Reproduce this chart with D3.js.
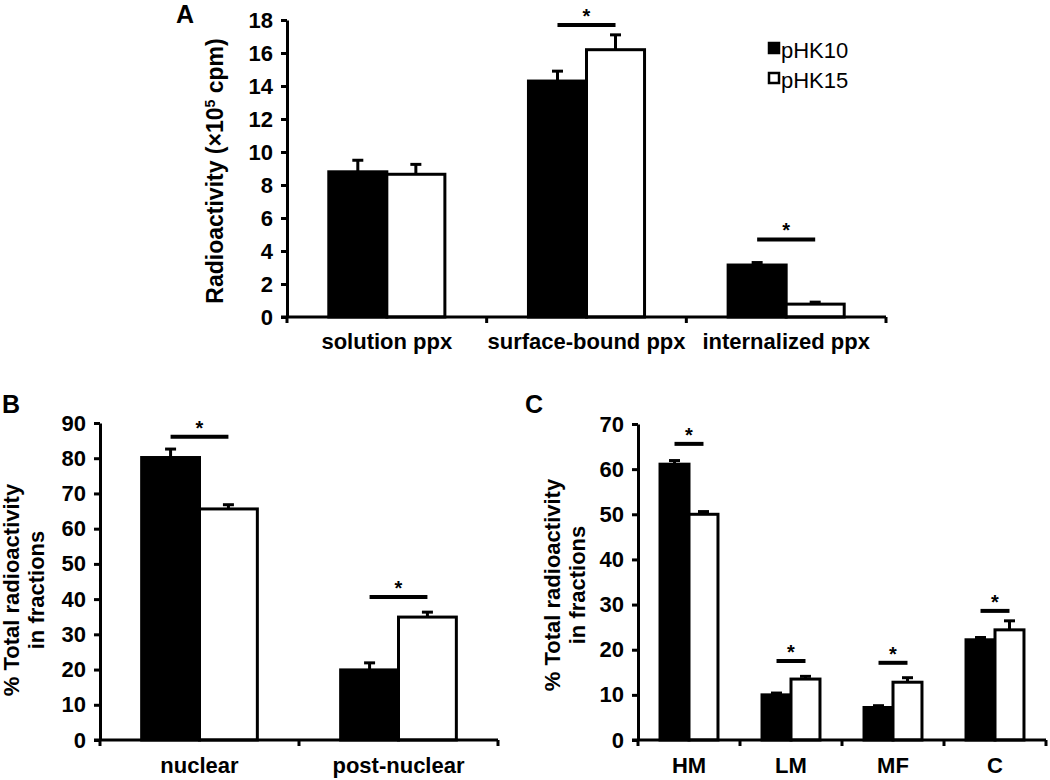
<!DOCTYPE html>
<html>
<head>
<meta charset="utf-8">
<script src="https://cdn.jsdelivr.net/npm/d3@7"></script>
<style>
  html, body { margin: 0; padding: 0; background: #fff; }
  svg { display: block; font-family: "Liberation Sans", Arial, Helvetica, sans-serif; }
</style>
</head>
<body>
<svg id="chart" width="1050" height="780"></svg>
<script>
// ---------- DATA ----------
const seriesNames = ["pHK10", "pHK15"];

const catsA = ["solution ppx", "surface-bound ppx", "internalized ppx"];
const pHK10_A = [8.8, 14.3, 3.15];
const pHK10_A_err = [0.7, 0.6, 0.15];
const pHK15_A = [8.65, 16.2, 0.78];
const pHK15_A_err = [0.6, 0.9, 0.12];
const sigA = [null, 17.7, 4.7];          // significance bar level (data units), null = none
const ticksA = [0, 2, 4, 6, 8, 10, 12, 14, 16, 18];

const catsB = ["nuclear", "post-nuclear"];
const pHK10_B = [80.2, 19.9];
const pHK10_B_err = [2.4, 2.0];
const pHK15_B = [65.6, 34.9];
const pHK15_B_err = [1.2, 1.4];
const sigB = [86.1, 40.6];
const ticksB = [0, 10, 20, 30, 40, 50, 60, 70, 80, 90];

const catsC = ["HM", "LM", "MF", "C"];
const pHK10_C = [61.1, 10.0, 7.2, 22.2];
const pHK10_C_err = [0.8, 0.4, 0.4, 0.5];
const pHK15_C = [50.0, 13.5, 12.8, 24.4];
const pHK15_C_err = [0.6, 0.6, 1.0, 2.0];
const sigC = [65.6, 17.5, 17.1, 28.6];
const ticksC = [0, 10, 20, 30, 40, 50, 60, 70];

// ---------- DRAW ----------
const svg = d3.select("#chart");
const fills = { pHK10: "#000", pHK15: "#fff" };

function panel(opts) {
  const g = svg.append("g");
  const { cats, s1, e1, s2, e2, sig, ticks, x0r, y0r, pad } = opts;
  const x0 = d3.scaleBand().domain(cats).range(x0r).paddingInner(0).paddingOuter(0);
  const x1 = d3.scaleBand().domain(seriesNames).range([0, x0.bandwidth()]).paddingOuter(pad).paddingInner(0);
  const y = d3.scaleLinear().domain([0, d3.max(ticks)]).range(y0r);

  const rows = cats.map((c, i) => ({
    cat: c,
    vals: [
      { s: "pHK10", v: s1[i], e: e1[i] },
      { s: "pHK15", v: s2[i], e: e2[i] }
    ],
    sig: sig[i]
  }));

  const grp = g.selectAll("g.grp").data(rows).join("g")
    .attr("transform", d => `translate(${x0(d.cat)},0)`);

  // error bars (upward only)
  grp.selectAll("g.err").data(d => d.vals).join("g").each(function (d) {
    const cx = x1(d.s) + x1.bandwidth() / 2;
    const sel = d3.select(this);
    sel.append("line").attr("x1", cx).attr("x2", cx)
      .attr("y1", y(d.v)).attr("y2", y(d.v + d.e))
      .attr("stroke", "#000").attr("stroke-width", 3);
    sel.append("line").attr("x1", cx - 5.5).attr("x2", cx + 5.5)
      .attr("y1", y(d.v + d.e)).attr("y2", y(d.v + d.e))
      .attr("stroke", "#000").attr("stroke-width", 3);
  });

  grp.selectAll("rect").data(d => d.vals).join("rect")
    .attr("x", d => x1(d.s))
    .attr("width", x1.bandwidth())
    .attr("y", d => y(d.v))
    .attr("height", d => y(0) - y(d.v))
    .attr("fill", d => fills[d.s])
    .attr("stroke", "#000").attr("stroke-width", 3);

  // significance markers
  grp.filter(d => d.sig != null).each(function (d) {
    const sel = d3.select(this);
    const yy = y(d.sig);
    const xa = x1("pHK10") + x1.bandwidth() / 2;
    const xb = x1("pHK15") + x1.bandwidth() / 2;
    sel.append("line").attr("x1", xa).attr("x2", xb).attr("y1", yy).attr("y2", yy)
      .attr("stroke", "#000").attr("stroke-width", 4);
    sel.append("text").attr("x", (xa + xb) / 2).attr("y", yy - 2)
      .attr("text-anchor", "middle").attr("font-size", 20).attr("font-weight", "bold")
      .text("*");
  });

  // y axis
  const yAxis = d3.axisLeft(y).tickValues(ticks).tickSize(6).tickSizeOuter(0).tickPadding(8);
  const ya = g.append("g").attr("transform", `translate(${x0r[0]},0)`).call(yAxis);
  ya.select(".domain").attr("stroke", "#000").attr("stroke-width", 3);
  ya.selectAll(".tick line").attr("stroke", "#000").attr("stroke-width", 3);
  ya.selectAll(".tick text").attr("font-size", 22).attr("font-weight", "bold")
    .attr("fill", "#000").attr("font-family", "Liberation Sans, Arial, sans-serif");

  // x axis line with ticks at band boundaries
  const y0 = y(0);
  g.append("line").attr("x1", x0r[0] - 6).attr("x2", x0r[1]).attr("y1", y0).attr("y2", y0)
    .attr("stroke", "#000").attr("stroke-width", 3);
  const bounds = cats.map(c => x0(c)).concat([x0r[1]]);
  g.selectAll("line.xt").data(bounds).join("line").attr("class", "xt")
    .attr("x1", d => d).attr("x2", d => d).attr("y1", y0).attr("y2", y0 + 6)
    .attr("stroke", "#000").attr("stroke-width", 3);
  g.selectAll("text.xl").data(cats).join("text").attr("class", "xl")
    .attr("x", d => x0(d) + x0.bandwidth() / 2)
    .attr("y", y0 + opts.labelDy)
    .attr("text-anchor", "middle").attr("font-size", 22).attr("font-weight", "bold")
    .text(d => d);

  return { x0, x1, y, g };
}

// Panel A
panel({
  cats: catsA, s1: pHK10_A, e1: pHK10_A_err, s2: pHK15_A, e2: pHK15_A_err, sig: sigA,
  ticks: ticksA, x0r: [287, 886], y0r: [317, 20], pad: 0.72, labelDy: 32
});
// Panel B
panel({
  cats: catsB, s1: pHK10_B, e1: pHK10_B_err, s2: pHK15_B, e2: pHK15_B_err, sig: sigB,
  ticks: ticksB, x0r: [100, 498], y0r: [740, 423], pad: 0.72, labelDy: 33
});
// Panel C
panel({
  cats: catsC, s1: pHK10_C, e1: pHK10_C_err, s2: pHK15_C, e2: pHK15_C_err, sig: sigC,
  ticks: ticksC, x0r: [638, 1046], y0r: [740, 424], pad: 0.76, labelDy: 33
});

// Panel letters
svg.append("text").attr("x", 176).attr("y", 23).attr("font-size", 25).attr("font-weight", "bold").text("A");
svg.append("text").attr("x", 2).attr("y", 413).attr("font-size", 25).attr("font-weight", "bold").text("B");
svg.append("text").attr("x", 525).attr("y", 413).attr("font-size", 25).attr("font-weight", "bold").text("C");

// Y axis titles
const tA = svg.append("text").attr("transform", "translate(223,171) rotate(-90)")
  .attr("text-anchor", "middle").attr("font-size", 23).attr("font-weight", "bold");
tA.append("tspan").text("Radioactivity (×10");
tA.append("tspan").attr("font-size", 14).attr("dy", -8).text("5");
tA.append("tspan").attr("dy", 8).text(" cpm)");

function twoLine(x, yc) {
  const t = svg.append("text").attr("transform", `translate(${x},${yc}) rotate(-90)`)
    .attr("text-anchor", "middle").attr("font-size", 22).attr("font-weight", "bold");
  t.append("tspan").attr("x", 0).attr("y", 0).text("% Total radioactivity");
  t.append("tspan").attr("x", 0).attr("y", 25).text("in fractions");
}
twoLine(19, 590);
twoLine(560, 585);

// Legend
const legend = svg.append("g");
const legY = d3.scaleBand().domain(seriesNames).range([42, 102]);
legend.selectAll("rect").data(seriesNames).join("rect")
  .attr("x", 769).attr("y", d => legY(d) + 1).attr("width", 10).attr("height", 10)
  .attr("fill", d => fills[d]).attr("stroke", "#000").attr("stroke-width", 2.5);
legend.selectAll("text").data(seriesNames).join("text")
  .attr("x", 781).attr("y", d => legY(d) + 16)
  .attr("font-size", 22).text(d => d);
</script>
</body>
</html>
